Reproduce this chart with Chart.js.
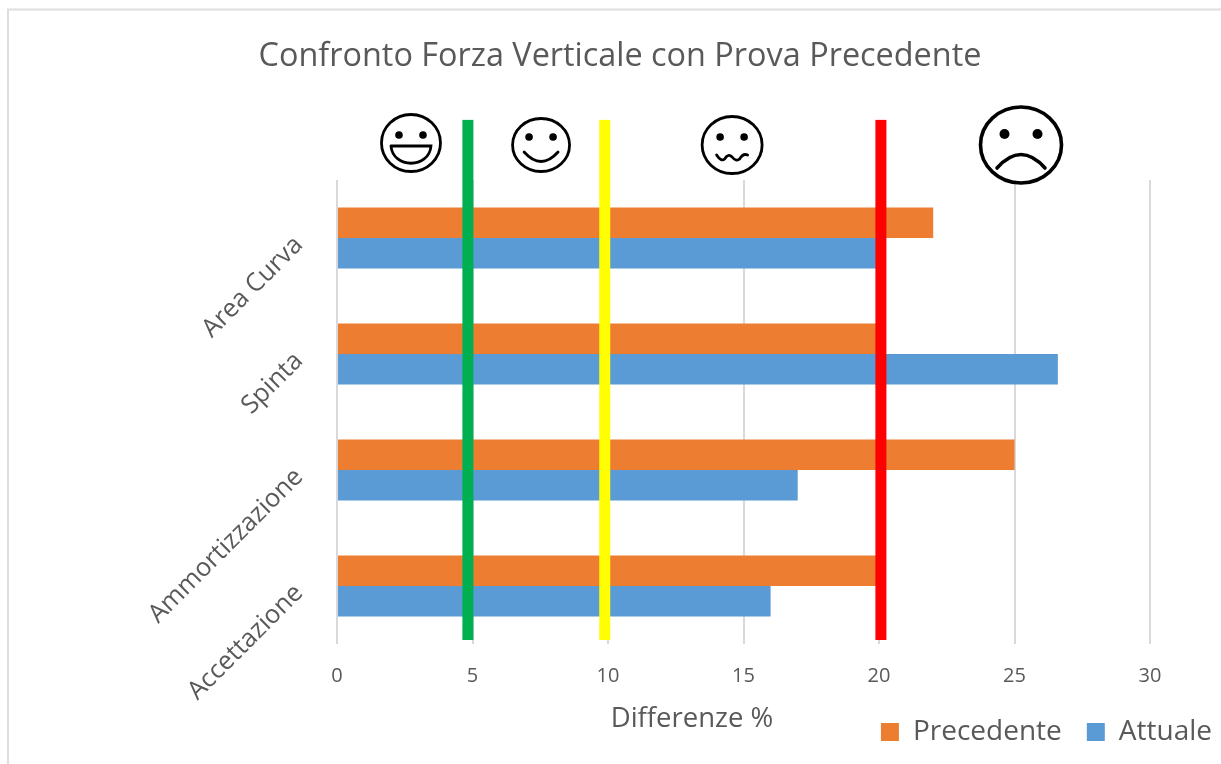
<!DOCTYPE html>
<html>
<head>
<meta charset="utf-8">
<style>
  html, body { margin: 0; padding: 0; background: #fff; }
  #wrap { position: relative; width: 1221px; height: 764px; }
</style>
<script src="https://cdn.jsdelivr.net/npm/chart.js@4"></script>
</head>
<body>
<div id="wrap"><canvas id="forceChart" width="1221" height="764"></canvas></div>
<script>
const categories = ['Area Curva', 'Spinta', 'Ammortizzazione', 'Accettazione'];
const previousValues = [22, 20, 25, 20];
const currentValues = [20, 26.6, 17, 16];
const xTicks = [0, 5, 10, 15, 20, 25, 30];

// threshold lines and the faces that sit between them
const thresholdValues = [4.83, 9.88, 20.07];
const faceValues = [2.73, 7.53, 14.58, 25.24];
const faceKinds = ['grin', 'smile', 'wavy', 'sad'];

const thresholdColors = ['#00B050', '#FFFF00', '#FF0000'];

function drawFace(ctx, x, kind) {
    const big = kind === 'sad';
    const rx = { grin: 29.5, smile: 28.5, wavy: 30, sad: 40.5 }[kind];
    const ry = { grin: 28.5, smile: 26.5, wavy: 28.5, sad: 38 }[kind];
    const y = kind === 'grin' ? 143 : 145;
    const eyeDx = big ? 16.5 : 12;
    const eyeY = y - (big ? 11 : 8);
    ctx.save();
    ctx.strokeStyle = '#000';
    ctx.fillStyle = '#000';
    ctx.lineWidth = big ? 3.6 : 2.8;
    ctx.lineCap = 'round';
    ctx.beginPath();
    ctx.ellipse(x, y, rx, ry, 0, 0, Math.PI * 2);
    ctx.stroke();
    [-1, 1].forEach(function(side) {
        ctx.beginPath();
        ctx.arc(x + side * eyeDx, eyeY, big ? 5 : 3.8, 0, Math.PI * 2);
        ctx.fill();
    });
    ctx.beginPath();
    if (kind === 'grin') {
        ctx.moveTo(x - 20, y + 3);
        ctx.lineTo(x + 20, y + 3);
        ctx.bezierCurveTo(x + 18, y + 26, x - 18, y + 26, x - 20, y + 3);
    } else if (kind === 'smile') {
        ctx.moveTo(x - 17, y + 7);
        ctx.quadraticCurveTo(x, y + 26, x + 17, y + 7);
    } else if (kind === 'wavy') {
        ctx.moveTo(x - 15.5, y + 10);
        ctx.quadraticCurveTo(x - 11, y + 17, x - 7.5, y + 14);
        ctx.quadraticCurveTo(x - 4, y + 8, x, y + 12);
        ctx.quadraticCurveTo(x + 4, y + 17, x + 7.5, y + 14);
        ctx.quadraticCurveTo(x + 11, y + 8, x + 15.5, y + 10);
    } else {
        ctx.moveTo(x - 24, y + 23);
        ctx.quadraticCurveTo(x, y - 4, x + 24, y + 23);
    }
    ctx.stroke();
    ctx.restore();
}

const overlayPlugin = {
    id: 'overlay',
    // the title is centred on the whole frame and the legend hangs past the plot
    afterLayout(chart) {
        chart.titleBlock.right = 1240;
        chart.legend.right = 1237;
        chart.legend.top = 693;
    },
    afterDatasetsDraw(chart) {
        const ctx = chart.ctx;
        const xScale = chart.scales.x;
        const area = chart.chartArea;

        // border of the pasted chart
        ctx.save();
        ctx.strokeStyle = '#DEDEDE';
        ctx.lineWidth = 2;
        ctx.beginPath();
        ctx.moveTo(8, 764);
        ctx.lineTo(8, 9.5);
        ctx.lineTo(1221, 9.5);
        ctx.stroke();
        ctx.restore();

        thresholdValues.forEach(function(v, i) {
            const x = xScale.getPixelForValue(v);
            ctx.save();
            ctx.fillStyle = thresholdColors[i];
            ctx.fillRect(x - 5.5, area.top - 60, 11, area.height + 56);
            ctx.restore();
        });

        faceValues.forEach(function(v, i) {
            drawFace(ctx, xScale.getPixelForValue(v), faceKinds[i]);
        });

        ctx.save();
        ctx.font = '27.5px "Open Sans"';
        ctx.fillStyle = '#595959';
        ctx.textAlign = 'center';
        ctx.textBaseline = 'middle';
        ctx.fillText('Differenze %', xScale.getPixelForValue(13.1), 719);
        ctx.restore();
    }
};

new Chart(document.getElementById('forceChart').getContext('2d'), {
    type: 'bar',
    data: {
        labels: categories,
        datasets: [
            { label: 'Precedente', data: previousValues, backgroundColor: '#ED7D31', barPercentage: 1, categoryPercentage: 0.526 },
            { label: 'Attuale', data: currentValues, backgroundColor: '#5B9BD5', barPercentage: 1, categoryPercentage: 0.526 }
        ]
    },
    options: {
        indexAxis: 'y',
        responsive: false,
        animation: false,
        layout: { padding: { left: 0, right: 71, top: 0, bottom: -7 } },
        plugins: {
            title: {
                display: true,
                text: 'Confronto Forza Verticale con Prova Precedente',
                color: '#595959',
                font: { family: '"Open Sans"', size: 32.4, weight: 'normal' },
                padding: { top: 37, bottom: 104 }
            },
            legend: {
                position: 'bottom',
                align: 'end',
                labels: {
                    color: '#595959',
                    font: { family: '"Open Sans"', size: 28 },
                    boxWidth: 18,
                    boxHeight: 18,
                    padding: 25
                }
            },
            tooltip: { enabled: false }
        },
        scales: {
            x: {
                min: 0,
                max: 30,
                afterBuildTicks(scale) { scale.ticks = xTicks.map(v => ({ value: v })); },
                border: { display: false },
                grid: { color: '#D9D9D9', lineWidth: 2, drawTicks: false },
                ticks: { color: '#595959', font: { family: '"Open Sans"', size: 20 }, padding: 20, maxRotation: 0 }
            },
            y: {
                afterFit(scale) { scale.width = 337; },
                border: { display: false },
                grid: { display: false },
                ticks: { color: '#595959', font: { family: '"Open Sans"', size: 25.5 }, padding: 30, labelOffset: 3, minRotation: 45, maxRotation: 45 }
            }
        }
    },
    plugins: [overlayPlugin]
});
</script>
</body>
</html>
